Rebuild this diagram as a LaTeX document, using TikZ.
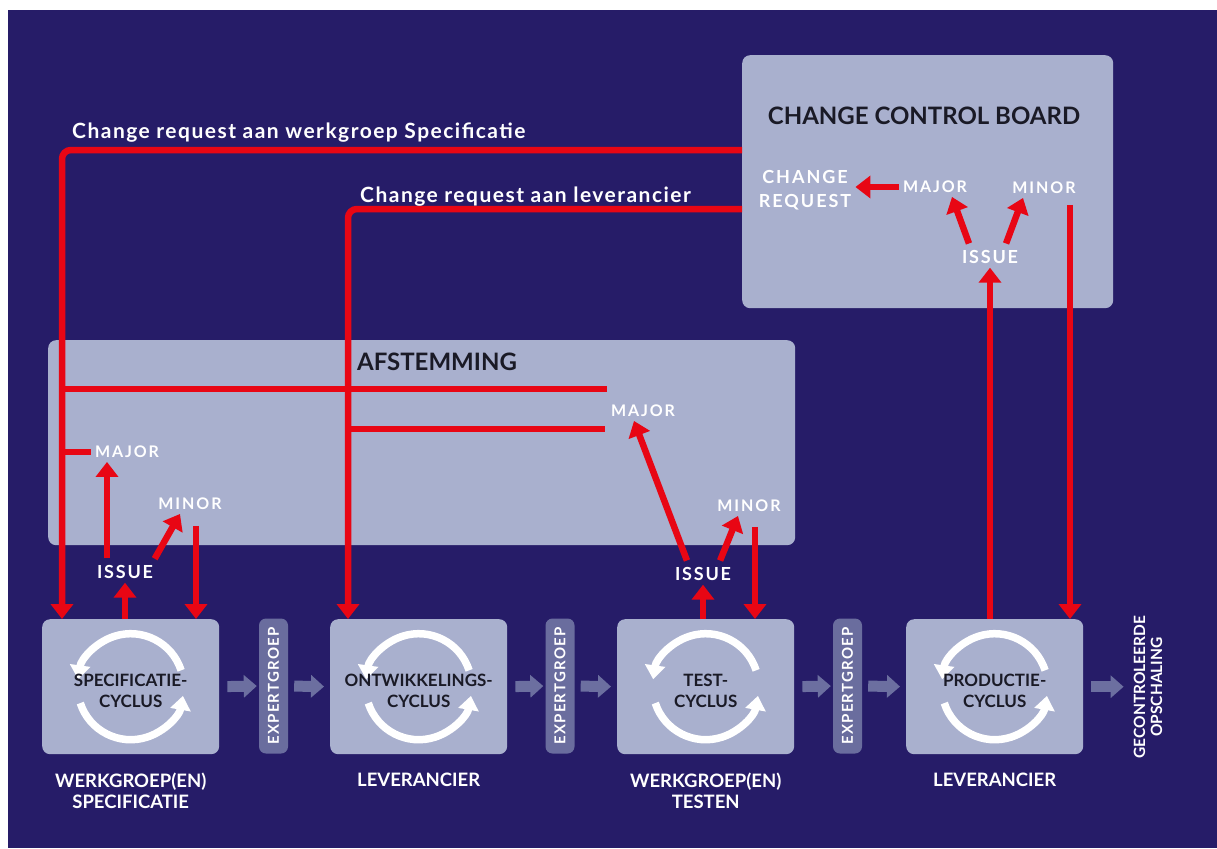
\documentclass[tikz,border=0pt]{standalone}
\usepackage{fontspec}
\setmainfont{Lato}
\usetikzlibrary{arrows.meta,calc}
\definecolor{bg}{RGB}{38,28,104}
\definecolor{panel}{RGB}{169,176,206}
\definecolor{crred}{RGB}{232,6,20}
\definecolor{expert}{RGB}{106,109,158}
\definecolor{garrow}{RGB}{108,111,160}
\definecolor{darktext}{RGB}{26,26,38}
\newcommand\cycarrows[1]{%
  \begin{scope}[shift={(#1.center)}, yscale=-1]
    \draw[cycarr] (18:53) arc[start angle=18, end angle=172, radius=53];
    \draw[cycarr] (198:53) arc[start angle=198, end angle=350, radius=53];
  \end{scope}}
\begin{document}
\begin{tikzpicture}[x=1pt,y=-1pt,
  panelbox/.style={fill=panel, rounded corners=8pt, draw=none, inner sep=0pt},
  cyclebox/.style={panelbox, minimum width=177pt, minimum height=135pt, anchor=north west},
  expbox/.style={fill=expert, rounded corners=7pt, minimum width=135pt, minimum height=29pt, rotate=90, inner sep=0pt, text=white, font=\fontsize{15}{17}\selectfont\bfseries\addfontfeature{LetterSpace=8}},
  title/.style={text=darktext, font=\fontsize{24}{28}\selectfont\bfseries, inner sep=0pt},
  cyctext/.style={text=darktext, font=\fontsize{17}{21}\selectfont\bfseries, align=center, inner sep=0pt},
  under/.style={text=white, font=\fontsize{18.5}{21}\selectfont\bfseries, align=center, inner sep=0pt, anchor=north},
  lab/.style={text=white, font=\fontsize{16}{18}\selectfont\bfseries\addfontfeature{LetterSpace=12}, inner sep=4pt, text height=11.5pt, text depth=0pt},
  isslab/.style={text=white, font=\fontsize{18}{20}\selectfont\bfseries\addfontfeature{LetterSpace=10}, inner sep=4pt, text height=13pt, text depth=0pt},
  crtext/.style={text=white, font=\fontsize{21}{24}\selectfont\bfseries\addfontfeature{LetterSpace=7}, inner sep=0pt, text height=14pt, text depth=0pt, anchor=west},
  redline/.style={draw=crred, line width=6.5pt},
  redarr/.style={redline, -{Triangle[length=15pt,width=22pt]}},
  grayarr/.style={draw=garrow, line width=11pt, -{Triangle[length=13pt,width=22pt]}},
  cycarr/.style={draw=white, line width=7.5pt, -{Triangle[length=14pt,width=20pt]}}
]
\fill[white] (0,0) rectangle (1217,848);
\fill[bg] (8,10) rectangle (1217,848);
\useasboundingbox (0,0) rectangle (1217,848);

% panels
\node[panelbox, anchor=north west, minimum width=371pt, minimum height=253pt] (ccb) at (742,55) {};
\node[panelbox, anchor=north west, minimum width=747pt, minimum height=205pt] (afs) at (48,340) {};
\node[title] (ccbT) at (924,116) {CHANGE CONTROL BOARD};
\node[title] (afsT) at (437,362) {AFSTEMMING};

% cycle boxes
\node[cyclebox] (b1) at (42,619) {};
\node[cyclebox] (b2) at (330,619) {};
\node[cyclebox] (b3) at (617,619) {};
\node[cyclebox] (b4) at (906,619) {};
\cycarrows{b1}\cycarrows{b2}\cycarrows{b3}\cycarrows{b4}
\node[cyctext] (c1) at ([yshift=-4pt]b1.center) {SPECIFICATIE-\\CYCLUS};
\node[cyctext] (c2) at ([yshift=-4pt]b2.center) {ONTWIKKELINGS-\\CYCLUS};
\node[cyctext] (c3) at ([yshift=-4pt]b3.center) {TEST-\\CYCLUS};
\node[cyctext] (c4) at ([yshift=-4pt]b4.center) {PRODUCTIE-\\CYCLUS};

% expert boxes
\node[expbox] (e1) at (273.5,686) {EXPERTGROEP};
\node[expbox] (e2) at (560,686) {EXPERTGROEP};
\node[expbox] (e3) at (847.5,686) {EXPERTGROEP};
\node[text=white, font=\fontsize{15.5}{17}\selectfont\bfseries, align=center, rotate=90, inner sep=0pt] (ops) at (1148,687) {GECONTROLEERDE\\OPSCHALING};

% gray flow arrows
\draw[grayarr, shorten <=8pt, shorten >=2pt] (b1.east) -- (e1.north);
\draw[grayarr, shorten <=6pt, shorten >=6pt] (e1.south) -- (b2.west);
\draw[grayarr, shorten <=8pt, shorten >=2pt] (b2.east) -- (e2.north);
\draw[grayarr, shorten <=6pt, shorten >=6pt] (e2.south) -- (b3.west);
\draw[grayarr, shorten <=8pt, shorten >=2pt] (b3.east) -- (e3.north);
\draw[grayarr, shorten <=6pt, shorten >=6pt] (e3.south) -- (b4.west);
\draw[grayarr, shorten <=8pt, shorten >=10pt] (b4.east) -- (b4.east -| ops.north);

% labels under boxes
\node[under] (w1) at ([yshift=-18pt]b1.south) {WERKGROEP(EN)\\SPECIFICATIE};
\node[under] (w2) at ([yshift=-18pt]b2.south) {LEVERANCIER};
\node[under] (w3) at ([yshift=-18pt]b3.south) {WERKGROEP(EN)\\TESTEN};
\node[under] (w4) at ([yshift=-18pt]b4.south) {LEVERANCIER};

% change request lines
\coordinate (k1) at (62,150);
\coordinate (k2) at (348,209);
\draw[redarr, rounded corners=9pt] (ccb.west |- k1) -- (k1) -- (k1 |- b1.north);
\draw[redarr, rounded corners=9pt] (ccb.west |- k2) -- (k2) -- (k2 |- b2.north);
\node[crtext] (t1) at (72,132) {Change request aan werkgroep Specificatie};
\node[crtext] (t2) at (360,195) {Change request aan leverancier};

% afstemming lines
\coordinate (a1) at (607,389);
\coordinate (a2) at (605,429);
\draw[redline] (k1 |- a1) -- (a1);
\draw[redline] (k2 |- a2) -- (a2);

% left group
\node[lab] (majL) at (127,452) {MAJOR};
\node[lab] (minL) at (190,504) {MINOR};
\node[isslab] (issueL) at (125,572) {ISSUE};
\draw[redline] (k1 |- majL) -- (majL.west);
\draw[redarr] (b1.north -| issueL) -- (issueL.south);
\draw[redarr, shorten <=3pt] ([xshift=-18pt]issueL.north) -- ([xshift=-18pt]issueL.north |- majL.south);
\draw[redarr, shorten <=3pt] ([xshift=-4pt]issueL.north east) -- ([xshift=-10pt]minL.south);
\draw[redarr, shorten <=12pt] ([xshift=6pt]minL.south) -- ([xshift=6pt]minL.south |- b1.north);

% test group
\node[lab] (majT) at (643,411) {MAJOR};
\node[lab] (minT) at (749,506) {MINOR};
\node[isslab] (issueT) at (703,574) {ISSUE};
\draw[redarr] (b3.north -| issueT) -- (issueT.south);
\draw[redarr, shorten <=3pt] ([xshift=-15pt]issueT.north) -- ([xshift=-9pt]majT.south);
\draw[redarr, shorten <=3pt] ([xshift=16pt]issueT.north) -- ([xshift=-11pt]minT.south);
\draw[redarr, shorten <=11pt] ([xshift=6pt]minT.south) -- ([xshift=6pt]minT.south |- b3.north);

% CCB group
\node[lab] (majC) at (935,187) {MAJOR};
\node[lab] (minC) at (1044,188) {MINOR};
\node[isslab] (issueC) at (990,257) {ISSUE};
\node[lab, align=center, text height=, font=\fontsize{18}{24}\selectfont\bfseries\addfontfeature{LetterSpace=11}] (crC) at (805,189) {CHANGE\\REQUEST};
\draw[redarr] (b4.north -| issueC) -- (issueC.south);
\draw[redarr, shorten <=3pt] ([xshift=-20pt]issueC.north) -- ([xshift=17pt]majC.south);
\draw[redarr, shorten <=3pt] ([xshift=15pt]issueC.north) -- ([xshift=-21pt]minC.south);
\draw[redarr, shorten <=7pt] ([xshift=26pt]minC.south) -- ([xshift=26pt]minC.south |- b4.north);
\draw[redarr] (majC.west) -- (majC.west -| crC.east);
\end{tikzpicture}
\end{document}
